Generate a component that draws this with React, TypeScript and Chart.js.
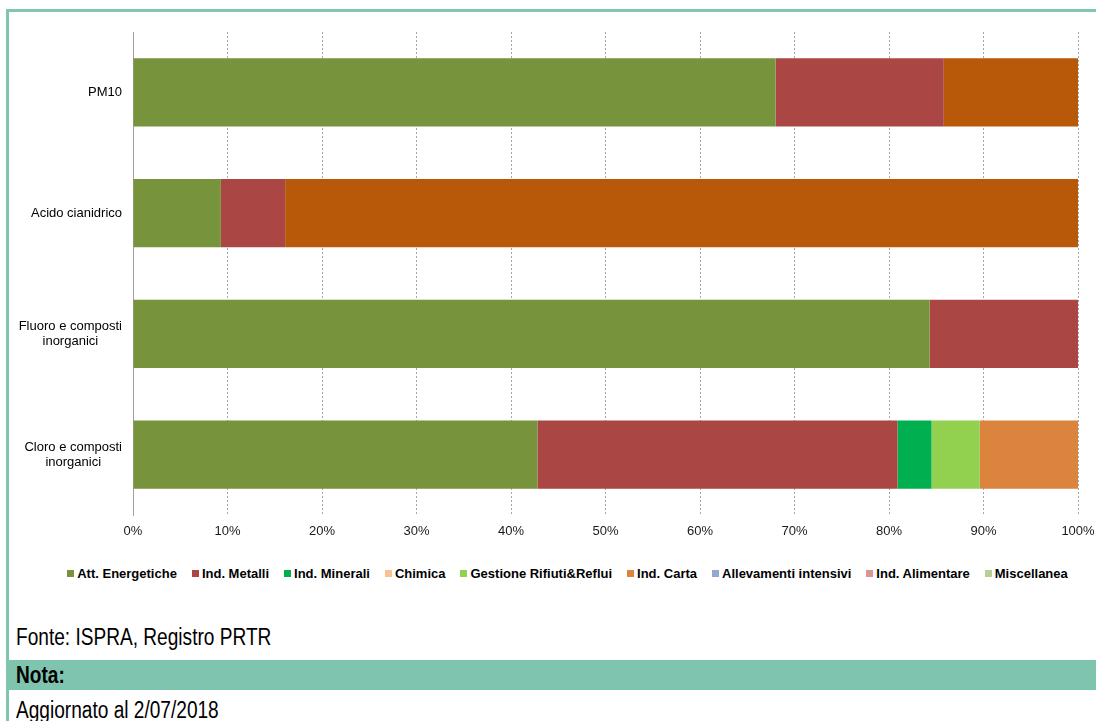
import React, { useEffect, useRef } from 'react';
import { Chart, registerables } from 'chart.js';

Chart.register(...registerables);

// ---- data ----
const categories: string[][] = [
  ['PM10'],
  ['Acido cianidrico'],
  ['Fluoro e composti', 'inorganici'],
  ['Cloro e composti', 'inorganici'],
];

const attEnergetiche = [68.0, 9.3, 84.3, 42.8];
const indMetalli = [17.8, 6.8, 15.7, 38.1];
const indMinerali = [0, 0, 0, 3.6];
const chimica = [0, 0, 0, 0];
const gestioneRifiuti = [0, 0, 0, 5.1];
const indCarta = [0, 0, 0, 10.4];
const allevamenti = [0, 0, 0, 0];
const indAlimentare = [0, 0, 0, 0];
const miscellanea = [0, 0, 0, 0];
const altro = [14.2, 83.9, 0, 0];

const xTickValues = [0, 10, 20, 30, 40, 50, 60, 70, 80, 90, 100];

const seriesLabels = [
  'Att. Energetiche',
  'Ind. Metalli',
  'Ind. Minerali',
  'Chimica',
  'Gestione Rifiuti&Reflui',
  'Ind. Carta',
  'Allevamenti intensivi',
  'Ind. Alimentare',
  'Miscellanea',
  'Altro',
];
const seriesData = [
  attEnergetiche,
  indMetalli,
  indMinerali,
  chimica,
  gestioneRifiuti,
  indCarta,
  allevamenti,
  indAlimentare,
  miscellanea,
  altro,
];
const seriesColors = [
  '#77933C',
  '#AA4643',
  '#00B050',
  '#FAC090',
  '#92D050',
  '#DB843D',
  '#92A8CD',
  '#D99694',
  '#B9CF96',
  '#B8590A',
];
const legendCount = 9; // 'Altro' is not shown in the legend

const FONT = '"Liberation Sans", Arial, sans-serif';

const yLabelPlugin = {
  id: 'yLabelPlugin',
  afterDraw(chart: any) {
    const { ctx, chartArea } = chart;
    const y = chart.scales.y;
    ctx.save();
    ctx.font = `13px ${FONT}`;
    ctx.fillStyle = '#000';
    ctx.textBaseline = 'middle';
    ctx.textAlign = 'center';
    const right = chartArea.left - 11;
    const lineH = 15;
    categories.forEach((lines, i) => {
      const cy = y.getPixelForValue(i);
      const maxW = Math.max(...lines.map((l) => ctx.measureText(l).width));
      const cx = right - maxW / 2;
      const startY = cy - ((lines.length - 1) * lineH) / 2;
      lines.forEach((l, j) => ctx.fillText(l, cx, startY + j * lineH));
    });
    ctx.restore();
  },
};

const narrowText = (text: string, top: number, bold = false) => (
  <div
    style={{
      position: 'absolute',
      left: 16,
      top,
      fontFamily: FONT,
      fontSize: 23,
      fontWeight: bold ? 'bold' : 'normal',
      lineHeight: '26px',
      color: '#000',
      whiteSpace: 'nowrap',
      transform: 'scaleX(0.83)',
      transformOrigin: '0 0',
    }}
  >
    {text}
  </div>
);

export default function App() {
  const ref = useRef<HTMLCanvasElement>(null);
  useEffect(() => {
    if (!ref.current) return;
    const chart = new Chart(ref.current, {
      type: 'bar',
      data: {
        labels: categories,
        datasets: seriesLabels.map((label, i) => ({
          label,
          data: seriesData[i],
          backgroundColor: seriesColors[i],
          borderWidth: 0,
          barPercentage: 0.565,
          categoryPercentage: 1,
        })),
      },
      options: {
        indexAxis: 'y',
        responsive: false,
        animation: false,
        devicePixelRatio: 1,
        layout: { padding: { top: 20, left: 49, right: 18, bottom: 0 } },
        plugins: {
          tooltip: { enabled: false },
          legend: { display: false },
        },
        scales: {
          x: {
            stacked: true,
            min: 0,
            max: 100,
            afterBuildTicks: (scale: any) => {
              scale.ticks = xTickValues.map((v) => ({ value: v }));
            },
            afterFit: (scale: any) => {
              scale.height = 30;
              scale.paddingLeft = 0;
              scale.paddingRight = 0;
            },
            ticks: {
              padding: 9,
              color: '#1a1a1a',
              font: { family: FONT, size: 13 },
              callback: (v: any) => `${v}%`,
              maxRotation: 0,
            },
            grid: {
              display: true,
              drawTicks: false,
              color: '#A6A6A6',
              lineWidth: 1,
            },
            border: { display: false, dash: [2, 2] },
          },
          y: {
            stacked: true,
            afterFit: (scale: any) => {
              scale.width = 76;
            },
            ticks: { display: false },
            grid: { display: false, drawTicks: false },
            border: { display: true, color: '#A0A0A0', width: 1 },
          },
        },
      },
      plugins: [yLabelPlugin],
    } as any);
    return () => chart.destroy();
  }, []);

  return (
    <div style={{ position: 'absolute', left: 0, top: 0, width: 1096, height: 721, overflow: 'hidden', background: '#fff' }}>
      <div
        style={{
          position: 'absolute',
          left: 6,
          top: 9,
          width: 1090,
          height: 712,
          borderTop: '3px solid #80C6AE',
          borderLeft: '3px solid #80C6AE',
          boxSizing: 'border-box',
        }}
      />
      <canvas
        ref={ref}
        width={1088}
        height={533}
        style={{ position: 'absolute', left: 8, top: 12, width: 1088, height: 533 }}
      />
      <div
        style={{
          position: 'absolute',
          left: 0,
          width: 1135,
          top: 565,
          height: 16,
          display: 'flex',
          justifyContent: 'center',
          alignItems: 'center',
          fontFamily: FONT,
          fontSize: 13,
          fontWeight: 'bold',
          color: '#000',
          whiteSpace: 'nowrap',
        }}
      >
        {seriesLabels.slice(0, legendCount).map((label, i) => (
          <div key={label} style={{ display: 'flex', alignItems: 'center', marginLeft: i === 0 ? 0 : 15 }}>
            <span style={{ display: 'inline-block', width: 7, height: 7, background: seriesColors[i], marginRight: 3 }} />
            <span>{label}</span>
          </div>
        ))}
      </div>
      {narrowText('Fonte: ISPRA, Registro PRTR', 624)}
      <div
        style={{
          position: 'absolute',
          left: 9,
          top: 660,
          width: 1087,
          height: 30,
          background: '#7FC4AE',
        }}
      />
      {narrowText('Nota:', 662, true)}
      {narrowText('Aggiornato al 2/07/2018', 697)}
    </div>
  );
}
